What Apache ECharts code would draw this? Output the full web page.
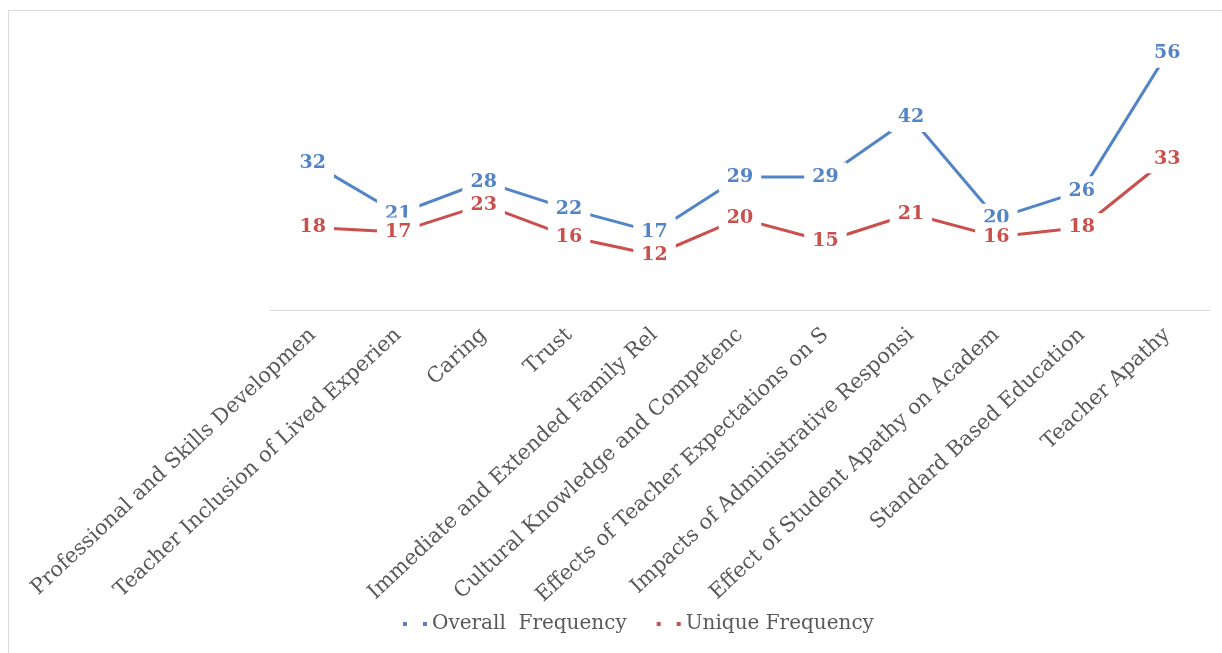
<!DOCTYPE html>
<html>
<head>
<meta charset="utf-8">
<script src="https://cdn.jsdelivr.net/npm/echarts@6/dist/echarts.min.js"></script>
<style>
  html, body { margin: 0; padding: 0; background: #fff; overflow: hidden; }
  .frame {
    position: absolute; left: 8px; top: 10px; width: 1240px; height: 680px;
    border: 1px solid #d9d9d9; box-sizing: border-box;
  }
  #chart { position: absolute; left: 0; top: 0; width: 1222px; height: 653px; }
</style>
</head>
<body>
<div class="frame"></div>
<div id="chart"></div>
<script>
// categories as shown (truncated like the source chart)
const categories = [
  'Professional and Skills Developmen',
  'Teacher Inclusion of Lived Experien',
  'Caring',
  'Trust',
  'Immediate and Extended Family Rel',
  'Cultural Knowledge and Competenc',
  'Effects of Teacher Expectations on S',
  'Impacts of Administrative Responsi',
  'Effect of Student Apathy on Academ',
  'Standard Based Education',
  'Teacher Apathy'
]
const overallFreq = [32, 21, 28, 22, 17, 29, 29, 42, 20, 26, 56]
const uniqueFreq = [18, 17, 23, 16, 12, 20, 15, 21, 16, 18, 33]

const blue = '#5384c6'
const red = '#c9504d'

// data labels sit on the point with a white box, so the line breaks round them
const labelStyle = (color) => ({
  show: true,
  position: 'inside',
  color: color,
  fontFamily: 'DejaVu Serif',
  fontWeight: 'bold',
  fontSize: 19,
  backgroundColor: '#fff',
  padding: [5, 8]
})

const myChart = echarts.init(document.getElementById('chart'))

const option = {
  animation: false,
  grid: { left: 270, right: 12, top: 35, bottom: 343 },
  legend: {
    bottom: 14,
    left: 398,
    itemWidth: 24,
    itemHeight: 4,
    itemGap: 30,
    icon: 'path://M0,0h4v4h-4zM20,0h4v4h-4z',
    textStyle: { fontFamily: 'DejaVu Serif', fontSize: 20, color: '#595959' },
    data: ['Overall  Frequency', 'Unique Frequency']
  },
  xAxis: {
    type: 'category',
    data: categories,
    boundaryGap: true,
    axisLine: { lineStyle: { color: '#d9d9d9', width: 1 } },
    axisTick: { show: false },
    axisLabel: {
      rotate: 43,
      interval: 0,
      margin: 22,
      color: '#595959',
      fontFamily: 'DejaVu Serif',
      fontSize: 21
    }
  },
  yAxis: {
    type: 'value',
    min: 0,
    max: 60,
    show: false,
    splitLine: { show: false }
  },
  series: [
    {
      name: 'Overall  Frequency',
      type: 'line',
      data: overallFreq,
      symbol: 'circle',
      symbolSize: 1,
      lineStyle: { color: blue, width: 3 },
      itemStyle: { color: blue },
      label: labelStyle(blue),
      z: 3
    },
    {
      name: 'Unique Frequency',
      type: 'line',
      data: uniqueFreq,
      symbol: 'circle',
      symbolSize: 1,
      lineStyle: { color: red, width: 3 },
      itemStyle: { color: red },
      label: labelStyle(red),
      z: 3
    }
  ]
}

myChart.setOption(option)
</script>
</body>
</html>
